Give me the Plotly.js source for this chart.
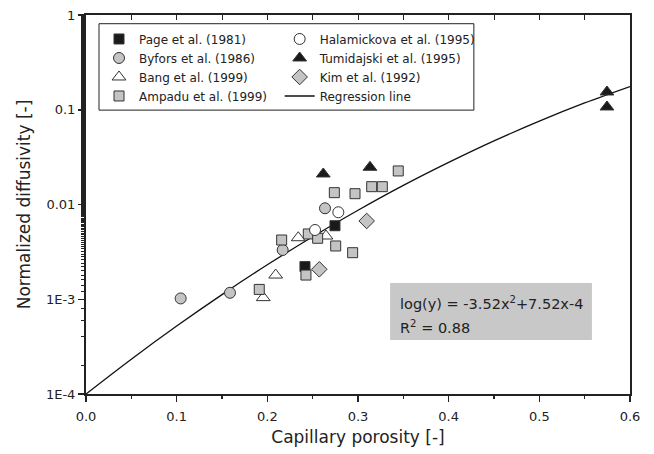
<!DOCTYPE html>
<html>
<head>
<meta charset="utf-8">
<script src="https://cdn.plot.ly/plotly-3.0.1.min.js"></script>
<style>html,body{margin:0;padding:0;background:#fff;}#chart{width:654px;height:454px;}</style>
</head>
<body>
<div id="chart"></div>
<script>
// ---- data ----
const pageX = [0.2746, 0.2415];
const pageY = [0.00597, 0.00221];
const byforsX = [0.1044, 0.1588, 0.2169, 0.2636];
const byforsY = [0.00102, 0.00117, 0.00331, 0.00912];
const bangX = [0.1955, 0.2092, 0.2341, 0.2647];
const bangY = [0.00104, 0.0018, 0.00446, 0.00465];
const ampaduX = [0.2739, 0.2967, 0.3151, 0.3268, 0.3444, 0.2452, 0.2555, 0.2158, 0.2754, 0.2941, 0.2426, 0.1911];
const ampaduY = [0.01333, 0.0130, 0.01542, 0.01542, 0.0226, 0.00489, 0.0044, 0.00422, 0.00365, 0.0031, 0.0018, 0.00127];
const halaX = [0.2526, 0.2783];
const halaY = [0.00538, 0.00828];
const tumiX = [0.2617, 0.3132, 0.5746, 0.5746];
const tumiY = [0.0210, 0.0247, 0.154, 0.107];
const kimX = [0.2573, 0.3096];
const kimY = [0.00207, 0.0067];
const regX = [0, 0.05, 0.1, 0.15, 0.2, 0.25, 0.3, 0.35, 0.4, 0.45, 0.5, 0.55, 0.6];
const regY = [0.0001, 0.000233, 0.000521, 0.00112, 0.00231, 0.00457, 0.00869, 0.0159, 0.0278, 0.0469, 0.0759, 0.118, 0.176];
const yTickVals = [0.0001, 0.001, 0.01, 0.1, 1];
const yTickText = ['1E-4', '1E-3', '0.01', '0.1', '1'];
const eqLine1 = 'log(y) = -3.52x<sup>2</sup>+7.52x-4';
const eqLine2 = 'R<sup>2</sup> = 0.88';

const GREY = '#c4c4c4';
const DARK = '#1a1a1a';
const OUT = '#333333';
const FONT = 'DejaVu Sans, Verdana, sans-serif';

function pts(name, x, y, symbol, fill, size, rank, leg) {
  return {type: 'scatter', mode: 'markers', name: name, x: x, y: y, legendrank: rank, legend: leg,
    marker: {symbol: symbol, color: fill, size: size, line: {color: OUT, width: 1}}};
}

const traces = [
  {type: 'scatter', mode: 'lines', name: 'Regression line', x: regX, y: regY, legendrank: 8, legend: 'legend2',
   line: {color: '#111', width: 1.3, shape: 'spline'}},
  pts('Page et al. (1981)', pageX, pageY, 'square', DARK, 10, 1, 'legend'),
  pts('Byfors et al. (1986)', byforsX, byforsY, 'circle', GREY, 11, 2, 'legend'),
  pts('Bang et al. (1999)', bangX, bangY, 'triangle-up', '#ffffff', 12, 3, 'legend'),
  pts('Ampadu et al. (1999)', ampaduX, ampaduY, 'square', GREY, 10, 4, 'legend'),
  pts('Halamickova et al. (1995)', halaX, halaY, 'circle', '#ffffff', 11, 5, 'legend2'),
  pts('Tumidajski et al. (1995)', tumiX, tumiY, 'triangle-up', DARK, 12, 6, 'legend2'),
  pts('Kim et al. (1992)', kimX, kimY, 'diamond', GREY, 12, 7, 'legend2'),
  {type: 'scatter', mode: 'markers', x: [0, 0.6], y: [0.0001, 1], xaxis: 'x2', yaxis: 'y',
   marker: {opacity: 0}, showlegend: false, hoverinfo: 'skip'},
  {type: 'scatter', mode: 'markers', x: [0], y: [0.001], xaxis: 'x', yaxis: 'y2',
   marker: {opacity: 0}, showlegend: false, hoverinfo: 'skip'}
];

const legendCommon = {
  orientation: 'v', xanchor: 'left', yanchor: 'top',
  bgcolor: 'rgba(0,0,0,0)', borderwidth: 0,
  font: {family: FONT, size: 12, color: '#222'},
  traceorder: 'normal', tracegroupgap: 0, itemsizing: 'trace'
};

const layout = {
  width: 654, height: 454,
  margin: {l: 86, r: 24, t: 15, b: 60},
  paper_bgcolor: '#fff', plot_bgcolor: '#fff',
  font: {family: FONT, color: '#222', size: 13},
  showlegend: true,
  legend: Object.assign({}, legendCommon, {x: 0.0239, y: 0.975}),
  legend2: Object.assign({}, legendCommon, {x: 0.356, y: 0.975}),
  xaxis: {
    range: [0, 0.6], dtick: 0.1, tick0: 0, tickformat: '.1f',
    showgrid: false, zeroline: false, showline: true, linecolor: '#222', linewidth: 2,
    ticks: 'outside', ticklen: 6, tickwidth: 1.5, tickcolor: '#222', ticklabelstandoff: 3,
    minor: {dtick: 0.05, tick0: 0, ticks: 'outside', ticklen: 3, tickwidth: 1.5, tickcolor: '#222', showgrid: false},
    tickfont: {size: 13}, mirror: false,
    title: {text: 'Capillary porosity [-]', font: {size: 17}, standoff: 9}
  },
  xaxis2: {
    overlaying: 'x', side: 'top', matches: 'x', range: [0, 0.6], dtick: 0.1, tick0: 0,
    showgrid: false, zeroline: false, showline: true, linecolor: '#222', linewidth: 2,
    ticks: 'inside', ticklen: 5, tickwidth: 1, tickcolor: '#222', showticklabels: false,
    minor: {dtick: 0.05, tick0: 0, ticks: 'inside', ticklen: 5, tickwidth: 1, tickcolor: '#222', showgrid: false}
  },
  yaxis: {
    type: 'log', range: [-4, 0], tickvals: yTickVals, ticktext: yTickText,
    showgrid: false, zeroline: false, showline: true, linecolor: '#222', linewidth: 2,
    ticks: 'outside', ticklen: 6, tickwidth: 1.5, tickcolor: '#222',
    minor: {ticks: 'outside', ticklen: 3, tickwidth: 1, tickcolor: '#222', showgrid: false},
    tickfont: {size: 13}, mirror: false,
    title: {text: 'Normalized diffusivity [-]', font: {size: 17}, standoff: 11}
  },
  yaxis2: {overlaying: 'y', side: 'right', showline: true, linecolor: '#222', linewidth: 2,
    showticklabels: false, ticks: '', showgrid: false, zeroline: false, type: 'log', range: [-4, 0]},
  shapes: [
    {type: 'rect', xref: 'paper', yref: 'paper', x0: 0.0239, x1: 0.713, y0: 0.749, y1: 0.977,
     fillcolor: '#ffffff', line: {width: 1, color: '#222'}, layer: 'below'},
    {type: 'rect', xref: 'paper', yref: 'paper', x0: 0.559, x1: 0.930, y0: 0.1425, y1: 0.2929,
     fillcolor: '#c8c8c8', line: {width: 0}, layer: 'below'}
  ],
  annotations: [
    {xref: 'paper', yref: 'paper', x: 0.5735, y: 0.240, xanchor: 'left', yanchor: 'middle',
     text: eqLine1, showarrow: false, font: {family: FONT, size: 14.5, color: '#222'}},
    {xref: 'paper', yref: 'paper', x: 0.5735, y: 0.177, xanchor: 'left', yanchor: 'middle',
     text: eqLine2, showarrow: false, font: {family: FONT, size: 14.5, color: '#222'}}
  ]
};

Plotly.newPlot('chart', traces, layout, {displayModeBar: false, staticPlot: true});
</script>
</body>
</html>
